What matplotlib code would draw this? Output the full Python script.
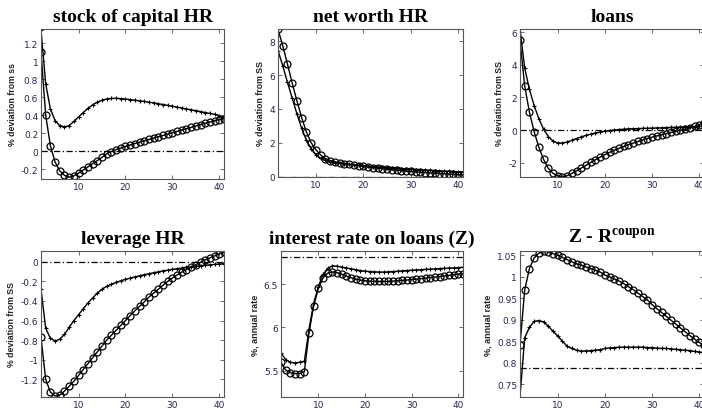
import numpy as np
import matplotlib.pyplot as plt

plt.rcParams["mathtext.fontset"] = "custom"
plt.rcParams["mathtext.rm"] = "Liberation Serif:bold"
plt.rcParams["mathtext.bf"] = "Liberation Serif:bold"

periods = np.arange(2, 42)

# stock of capital HR
capital_cross = [1.35, 0.75, 0.47, 0.34, 0.285, 0.27, 0.285, 0.33, 0.38, 0.43,
                 0.475, 0.515, 0.545, 0.567, 0.58, 0.587, 0.588, 0.585, 0.58, 0.574,
                 0.567, 0.56, 0.553, 0.545, 0.537, 0.528, 0.519, 0.51, 0.50, 0.49,
                 0.48, 0.47, 0.46, 0.45, 0.44, 0.43, 0.42, 0.41, 0.395, 0.375]
capital_circ = [1.1, 0.4, 0.06, -0.12, -0.22, -0.27, -0.29, -0.275, -0.245, -0.21,
                -0.175, -0.14, -0.105, -0.07, -0.03, -0.005, 0.018, 0.035, 0.052, 0.068,
                0.085, 0.10, 0.115, 0.13, 0.145, 0.16, 0.175, 0.19, 0.205, 0.22,
                0.235, 0.25, 0.265, 0.28, 0.295, 0.31, 0.325, 0.338, 0.35, 0.362]

# net worth HR
networth_cross = [7.45, 6.56, 5.57, 4.64, 3.7, 2.85, 2.15, 1.65, 1.3, 1.08,
                  0.96, 0.88, 0.83, 0.79, 0.76, 0.73, 0.7, 0.67, 0.645, 0.62,
                  0.595, 0.57, 0.55, 0.53, 0.51, 0.49, 0.47, 0.45, 0.435, 0.42,
                  0.405, 0.39, 0.375, 0.36, 0.345, 0.33, 0.315, 0.3, 0.29, 0.28]
networth_circ = [8.7, 7.74, 6.65, 5.52, 4.47, 3.48, 2.63, 2.0, 1.58, 1.28,
                 1.07, 0.95, 0.87, 0.82, 0.77, 0.73, 0.69, 0.65, 0.61, 0.57,
                 0.535, 0.5, 0.47, 0.44, 0.41, 0.38, 0.355, 0.33, 0.305, 0.28,
                 0.26, 0.24, 0.22, 0.2, 0.18, 0.165, 0.15, 0.13, 0.115, 0.1]

# loans
loans_cross = [6.2, 3.8, 2.5, 1.5, 0.7, 0.05, -0.4, -0.68, -0.8, -0.8,
               -0.73, -0.63, -0.52, -0.42, -0.33, -0.25, -0.18, -0.12, -0.07, -0.03,
               0.0, 0.03, 0.05, 0.07, 0.08, 0.09, 0.1, 0.11, 0.12, 0.13,
               0.14, 0.15, 0.16, 0.17, 0.18, 0.19, 0.2, 0.21, 0.22, 0.23]
loans_circ = [5.5, 2.7, 1.1, -0.1, -1.05, -1.8, -2.35, -2.65, -2.82, -2.88,
              -2.8, -2.66, -2.5, -2.33, -2.16, -1.99, -1.82, -1.66, -1.51, -1.37,
              -1.24, -1.12, -1.0, -0.9, -0.8, -0.7, -0.61, -0.52, -0.44, -0.36,
              -0.29, -0.22, -0.15, -0.08, -0.02, 0.05, 0.13, 0.22, 0.33, 0.45]

# leverage HR
leverage_cross = [-0.28, -0.68, -0.78, -0.81, -0.79, -0.74, -0.67, -0.6, -0.54, -0.48,
                  -0.42, -0.37, -0.32, -0.28, -0.25, -0.23, -0.21, -0.195, -0.18, -0.167,
                  -0.155, -0.143, -0.132, -0.122, -0.112, -0.103, -0.094, -0.086, -0.078, -0.071,
                  -0.064, -0.058, -0.052, -0.046, -0.041, -0.036, -0.031, -0.027, -0.023, -0.02]
leverage_circ = [-0.77, -1.2, -1.33, -1.37, -1.36, -1.32, -1.27, -1.22, -1.16, -1.1,
                 -1.04, -0.98, -0.92, -0.86, -0.8, -0.75, -0.7, -0.65, -0.6, -0.55,
                 -0.5, -0.455, -0.41, -0.36, -0.32, -0.28, -0.24, -0.2, -0.165, -0.135,
                 -0.105, -0.08, -0.055, -0.03, -0.005, 0.02, 0.04, 0.06, 0.08, 0.1]

# interest rate on loans (Z)
rate_cross = [5.71, 5.63, 5.6, 5.59, 5.6, 5.61, 5.98, 6.28, 6.47, 6.61,
              6.68, 6.71, 6.705, 6.695, 6.685, 6.675, 6.665, 6.655, 6.648, 6.643,
              6.64, 6.638, 6.638, 6.64, 6.643, 6.647, 6.651, 6.655, 6.659, 6.662,
              6.665, 6.668, 6.671, 6.674, 6.677, 6.68, 6.683, 6.686, 6.689, 6.692]
rate_circ = [5.6, 5.51, 5.48, 5.47, 5.47, 5.49, 5.94, 6.25, 6.45, 6.57,
             6.625, 6.64, 6.632, 6.612, 6.592, 6.572, 6.556, 6.545, 6.537, 6.532,
             6.53, 6.529, 6.529, 6.53, 6.533, 6.537, 6.541, 6.546, 6.551, 6.556,
             6.562, 6.568, 6.574, 6.58, 6.586, 6.592, 6.599, 6.606, 6.613, 6.62]
rate_ss = 6.815

# Z - R coupon
spread_cross = [0.72, 0.858, 0.882, 0.896, 0.898, 0.895, 0.885, 0.873, 0.862, 0.85,
                0.838, 0.833, 0.829, 0.827, 0.827, 0.828, 0.829, 0.83, 0.833, 0.834,
                0.835, 0.836, 0.836, 0.836, 0.836, 0.836, 0.836, 0.835, 0.835, 0.834,
                0.833, 0.833, 0.832, 0.831, 0.83, 0.829, 0.828, 0.826, 0.825, 0.823]
spread_circ = [0.84, 0.969, 1.019, 1.044, 1.055, 1.059, 1.058, 1.054, 1.05, 1.045,
               1.04, 1.035, 1.03, 1.027, 1.023, 1.019, 1.015, 1.011, 1.004, 1.0,
               0.995, 0.99, 0.984, 0.977, 0.97, 0.962, 0.954, 0.946, 0.935, 0.926,
               0.917, 0.908, 0.899, 0.89, 0.881, 0.872, 0.863, 0.855, 0.847, 0.84]
spread_ss = 0.788

panels = [
    ("stock of capital HR", "% deviation from ss", capital_cross, capital_circ, 0.0,
     (-0.31, 1.36), [-0.2, 0, 0.2, 0.4, 0.6, 0.8, 1, 1.2],
     [0.0584, 0.561, 0.2607, 0.3659]),
    ("net worth HR", "% deviation from SS", networth_cross, networth_circ, 0.0,
     (-0.02, 8.73), [0, 2, 4, 6, 8],
     [0.396, 0.5659, 0.2635, 0.361]),
    ("loans", "% deviation from SS", loans_cross, loans_circ, 0.0,
     (-2.88, 6.2), [-2, 0, 2, 4, 6],
     [0.7407, 0.5659, 0.2621, 0.361]),
    ("leverage HR", "% deviation from SS", leverage_cross, leverage_circ, 0.0,
     (-1.38, 0.11), [-1.2, -1, -0.8, -0.6, -0.4, -0.2, 0],
     [0.0584, 0.0293, 0.2607, 0.3561]),
    ("interest rate on loans (Z)", "%, annual rate", rate_cross, rate_circ, rate_ss,
     (5.2, 6.88), [5.5, 6, 6.5],
     [0.4003, 0.0293, 0.2593, 0.3561]),
    (r"Z - R$^{\mathrm{coupon}}$", "%, annual rate", spread_cross, spread_circ, spread_ss,
     (0.72, 1.06), [0.75, 0.8, 0.85, 0.9, 0.95, 1, 1.05],
     [0.7407, 0.0293, 0.2621, 0.3561]),
]

fig = plt.figure(figsize=(7.02, 4.10), dpi=100)

for title, ylab, cross, circ, ss, ylim, yticks, pos in panels:
    ax = fig.add_axes(pos)
    ax.plot(periods, cross, color="k", lw=1.0, marker="+", ms=3.5, mew=0.8)
    ax.plot(periods, circ, color="k", lw=1.0, marker="o", ms=5, mfc="none", mew=0.9)
    ax.axhline(ss, color="k", lw=0.9, ls=(0, (5, 2, 1, 2)))
    ax.set_xlim(2, 41)
    ax.set_ylim(*ylim)
    ax.set_xticks([10, 20, 30, 40])
    ax.set_yticks(yticks)
    ax.set_yticklabels([f"{t:g}" for t in yticks])
    ax.tick_params(direction="in", top=True, right=True, length=3, width=0.6,
                   labelsize=6.5, labelcolor="#26264d", colors="#555555", pad=2)
    for sp in ax.spines.values():
        sp.set_color("#555555")
        sp.set_linewidth(0.8)
    ax.set_title(title, fontfamily="Liberation Serif", fontweight="bold",
                 fontsize=14, pad=6)
    fs = 6.5 if "annual" in ylab else 6.3
    ax.set_ylabel(ylab, fontfamily="Liberation Sans", fontweight="bold",
                  fontsize=fs, labelpad=3, color="#222222")

fig.savefig("out.png", dpi=100)
